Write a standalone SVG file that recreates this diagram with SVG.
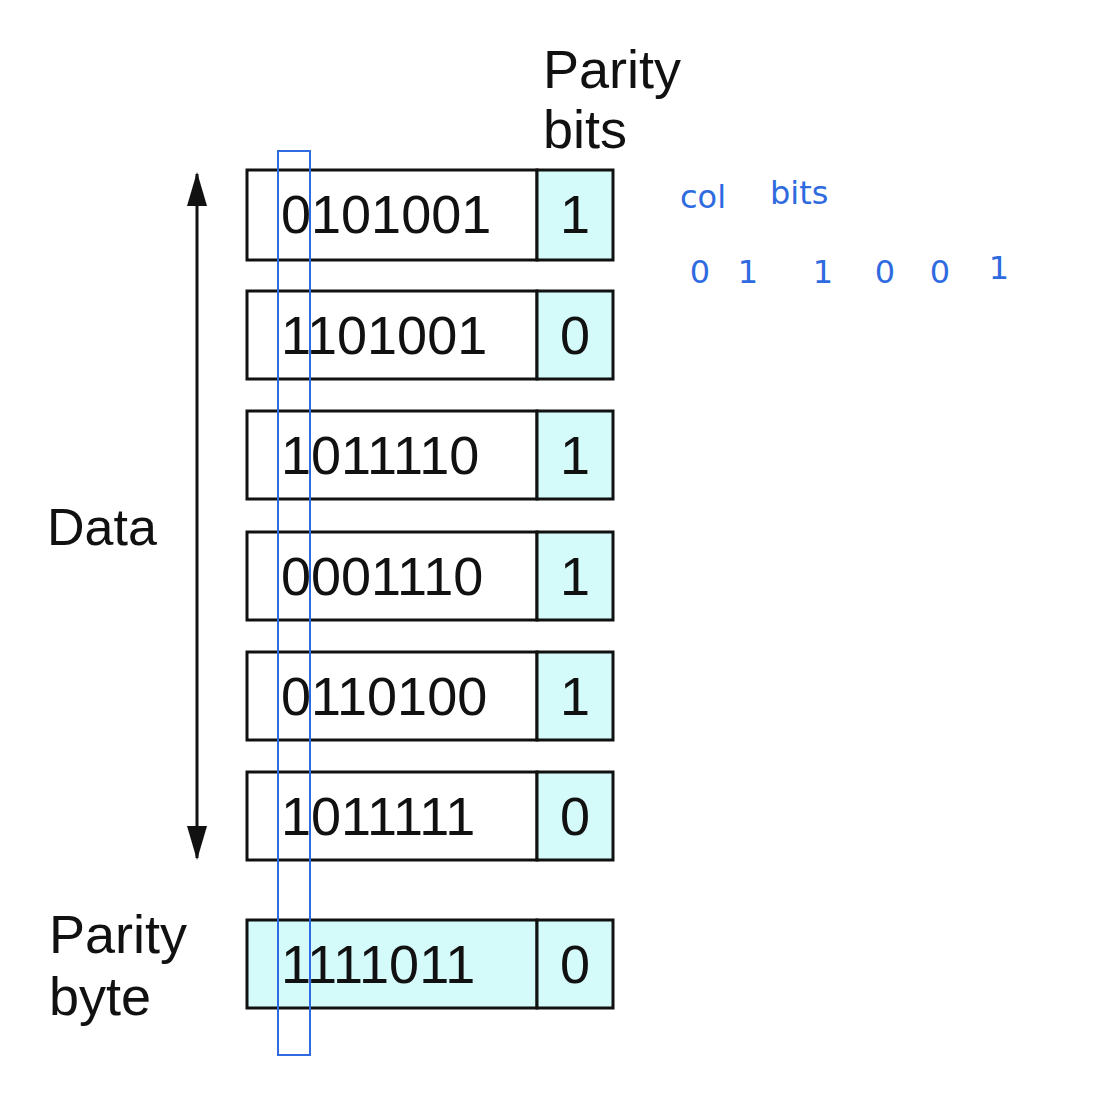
<svg xmlns="http://www.w3.org/2000/svg" width="1101" height="1095" viewBox="0 0 1101 1095">
<style>
.box{fill:#ffffff;stroke:#111;stroke-width:3}
.pb{fill:#d4fafa;stroke:#111;stroke-width:3}
.t{font-family:"Liberation Sans",Arial,sans-serif;font-size:54px;fill:#111}
.hw{font-family:"DejaVu Sans",sans-serif;fill:#2f6be0}
</style>
<defs>
<marker id="ah" viewBox="0 0 34 20" refX="32" refY="10" markerWidth="34" markerHeight="20" markerUnits="userSpaceOnUse" orient="auto-start-reverse">
<path d="M0,0 L34,10 L0,20 z" fill="#111"/>
</marker>
</defs>
<rect width="1101" height="1095" fill="#fff"/>
<g id="labels">
<text class="t" x="543" y="88">Parity</text>
<text class="t" x="543" y="148">bits</text>
<text class="t" x="47" y="545" style="font-size:52px">Data</text>
<text class="t" x="49" y="953">Parity</text>
<text class="t" x="49" y="1015">byte</text>
</g>
<g id="connectors">
<line x1="197" y1="174" x2="197" y2="858" stroke="#111" stroke-width="3" marker-start="url(#ah)" marker-end="url(#ah)"/>
</g>
<g id="row1"><rect class="box" x="247" y="170" width="290" height="90"/><rect class="pb" x="537" y="170" width="76" height="90"/><text class="t" x="281" y="233">0101001</text><text class="t" x="575" y="233" text-anchor="middle">1</text></g>
<g id="row2"><rect class="box" x="247" y="291" width="290" height="88"/><rect class="pb" x="537" y="291" width="76" height="88"/><text class="t" x="281" y="354">1101001</text><text class="t" x="575" y="354" text-anchor="middle">0</text></g>
<g id="row3"><rect class="box" x="247" y="411" width="290" height="88"/><rect class="pb" x="537" y="411" width="76" height="88"/><text class="t" x="281" y="474">1011110</text><text class="t" x="575" y="474" text-anchor="middle">1</text></g>
<g id="row4"><rect class="box" x="247" y="532" width="290" height="88"/><rect class="pb" x="537" y="532" width="76" height="88"/><text class="t" x="281" y="595">0001110</text><text class="t" x="575" y="595" text-anchor="middle">1</text></g>
<g id="row5"><rect class="box" x="247" y="652" width="290" height="88"/><rect class="pb" x="537" y="652" width="76" height="88"/><text class="t" x="281" y="715">0110100</text><text class="t" x="575" y="715" text-anchor="middle">1</text></g>
<g id="row6"><rect class="box" x="247" y="772" width="290" height="88"/><rect class="pb" x="537" y="772" width="76" height="88"/><text class="t" x="281" y="835">1011111</text><text class="t" x="575" y="835" text-anchor="middle">0</text></g>
<g id="parity-byte"><rect class="pb" x="247" y="920" width="290" height="88"/><rect class="pb" x="537" y="920" width="76" height="88"/><text class="t" x="281" y="983">1111011</text><text class="t" x="575" y="983" text-anchor="middle">0</text></g>
<g id="highlight"><rect x="278" y="151" width="32" height="904" fill="none" stroke="#2f6be0" stroke-width="2"/></g>
<g id="notes">
<text class="hw" x="680" y="208" font-size="32">col</text>
<text class="hw" x="770" y="204" font-size="32">bits</text>
<text class="hw" x="700" y="283" font-size="32" text-anchor="middle">0</text>
<text class="hw" x="748" y="283" font-size="32" text-anchor="middle">1</text>
<text class="hw" x="823" y="283" font-size="32" text-anchor="middle">1</text>
<text class="hw" x="885" y="283" font-size="32" text-anchor="middle">0</text>
<text class="hw" x="940" y="283" font-size="32" text-anchor="middle">0</text>
<text class="hw" x="999" y="279" font-size="32" text-anchor="middle">1</text>
</g>
</svg>
